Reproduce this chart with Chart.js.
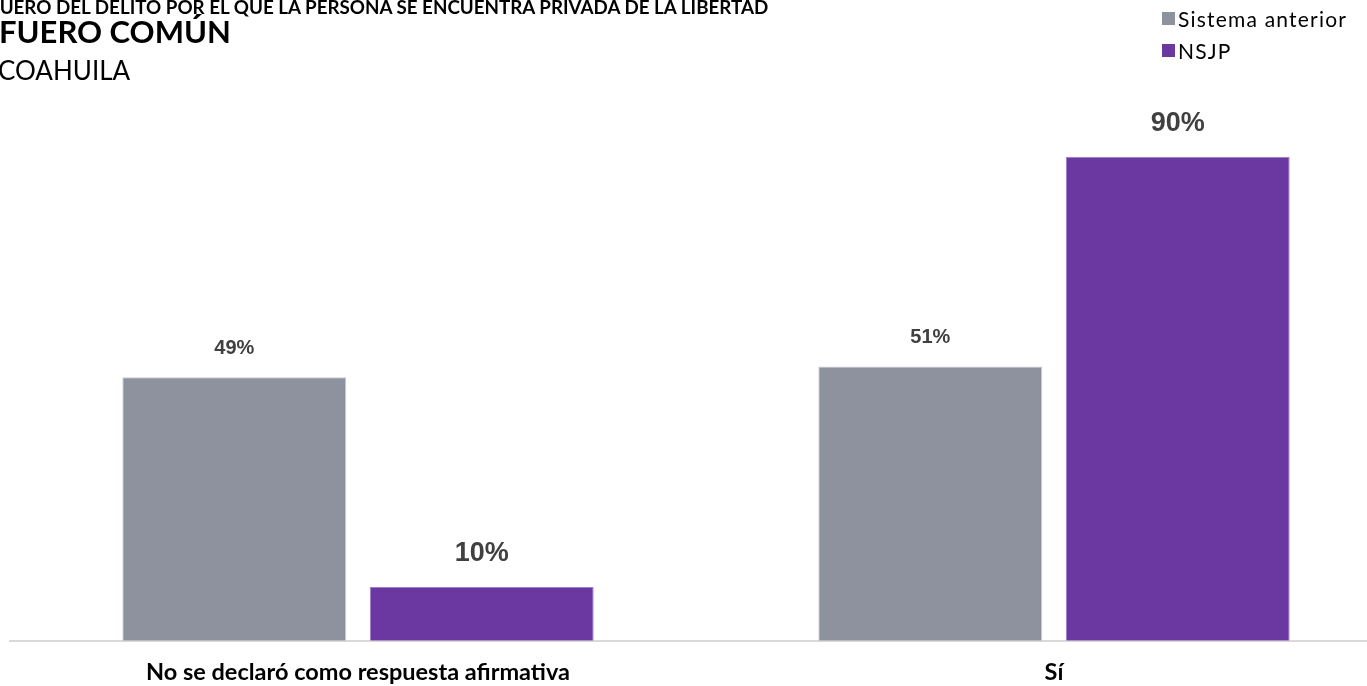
<html>
    <head>
        <title>Fuero común - Coahuila</title>
        <script src="https://cdn.jsdelivr.net/npm/chart.js@4.4.1/dist/chart.umd.min.js"></script>
        <style>
            body { margin: 0; background: #fff; overflow: hidden; }
            #wrap { position: relative; width: 1367px; height: 686px; overflow: hidden; }
            #chart { position: absolute; left: 0; top: 0; }
            .t1 { position: absolute; left: -11px; top: -5px; font: bold 18.8px Lato; color: #000; white-space: nowrap; }
            .t2 { position: absolute; left: -1px; top: 12px; font: bold 31px Lato; color: #000; white-space: nowrap; }
            .t3 { position: absolute; left: -2px; top: 54px; font: 26px Lato; color: #000; white-space: nowrap; }
            #legend { position: absolute; left: 1162px; top: 4px; font: 21px Lato; letter-spacing: 1.2px; color: #000; }
            #legend div { height: 32px; line-height: 30px; white-space: nowrap; }
            #legend span { display: inline-block; width: 13px; height: 13px; margin-right: 3px; vertical-align: 2px; }
        </style>
    </head>
    <body>
        <div id="wrap">
            <canvas id="chart" width="1402" height="705"></canvas>
            <div class="t1">FUERO DEL DELITO POR EL QUE LA PERSONA SE ENCUENTRA PRIVADA DE LA LIBERTAD</div>
            <div class="t2">FUERO COMÚN</div>
            <div class="t3">COAHUILA</div>
            <div id="legend"></div>
        </div>
    <script type="text/javascript">
    var categories = ["No se declaró como respuesta afirmativa", "Sí"];
    var seriesNames = ["Sistema anterior", "NSJP"];
    var sistemaAnterior = [49, 51];
    var nsjp = [10, 90];
    var colors = ['#8e929e', '#6a38a0'];

    // etiquetas de valor sobre cada barra (NSJP con letra mas grande)
    var valueLabels = {
        id: 'valueLabels',
        afterDatasetsDraw: function(chart) {
            var ctx = chart.ctx;
            ctx.save();
            ctx.fillStyle = '#404040';
            ctx.textAlign = 'center';
            ctx.textBaseline = 'middle';
            chart.data.datasets.forEach(function(ds, i) {
                var big = i == 1;
                ctx.font = 'bold ' + (big ? 27 : 20) + 'px "Liberation Sans"';
                chart.getDatasetMeta(i).data.forEach(function(bar, j) {
                    ctx.fillText(ds.data[j] + '%', bar.x, bar.y - (big ? 33 : 29));
                });
            });
            ctx.restore();
        }
    };

    var ctx = document.getElementById("chart").getContext('2d');
    var myChart = new Chart(ctx, {
        type: 'bar',
        data: {
            labels: categories,
            datasets: [{
                label: seriesNames[0],
                data: sistemaAnterior,
                backgroundColor: colors[0],
                borderColor: '#c9cbd1',
                borderWidth: 1,
                barPercentage: 0.905,
                categoryPercentage: 0.711
            }, {
                label: seriesNames[1],
                data: nsjp,
                backgroundColor: colors[1],
                borderColor: '#9a80c4',
                borderWidth: 1,
                barPercentage: 0.905,
                categoryPercentage: 0.711
            }]
        },
        options: {
            responsive: false,
            animation: false,
            layout: { padding: { top: 103, left: 10, right: 0, bottom: 1 } },
            plugins: {
                legend: { display: false },
                tooltip: { enabled: false }
            },
            scales: {
                x: {
                    grid: { display: false, drawTicks: false },
                    border: { display: true, color: '#d9d9d9', width: 2 },
                    ticks: {
                        padding: 17.5,
                        color: '#000',
                        font: { family: 'Lato', size: 23.5, weight: 'bold' }
                    }
                },
                y: {
                    display: false,
                    min: 0,
                    max: 100
                }
            }
        },
        plugins: [valueLabels]
    });

    // leyenda
    var legend = document.getElementById('legend');
    myChart.data.datasets.forEach(function(ds) {
        var row = document.createElement('div');
        var sw = document.createElement('span');
        sw.style.background = ds.backgroundColor;
        row.appendChild(sw);
        row.appendChild(document.createTextNode(ds.label));
        legend.appendChild(row);
    });
    </script>
    </body>
</html>
